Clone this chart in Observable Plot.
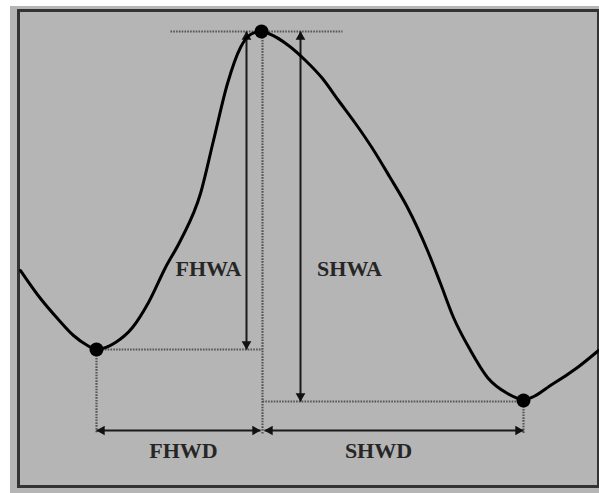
<!DOCTYPE html>
<html>
<head>
<meta charset="utf-8">
<script src="https://cdn.jsdelivr.net/npm/d3@7"></script>
<script src="https://cdn.jsdelivr.net/npm/@observablehq/plot@0.6"></script>
<style>
  html, body { margin: 0; padding: 0; background: #ffffff; }
  #chart { position: absolute; left: 10px; top: 6px; }
  #chart svg { display: block; background: #b5b5b5; }
</style>
</head>
<body>
<div id="chart"></div>
<script>
// Pulse waveform (time in samples, amplitude in arbitrary units)
const curveT = [2,22,39,55,69,78,97,114,130,147,162,182,195,209,222,232,243,250,270,287,304,320,337,354,371,389,409,422,435,452,469,489,505,535,559,580];
const curveV = [216,188,168,151,141,137,144,159,184,219,246,293,346,403,439,452,455,453,441,426,408,386,363,338,310,279,236,203,169,136,109,93,87,103,119,136];

// Key points: first minimum, peak, second minimum
const keyNames = ["first minimum", "peak", "second minimum"];
const keyT = [78, 243, 505];
const keyV = [137, 455, 86];

// Measurement labels and where they sit
const labelNames = ["FHWA", "SHWA", "FHWD", "SHWD"];
const labelT = [190, 331, 165, 360];
const labelV = [218, 218, 36, 36];

// Measurement placement
const splitT = 244;                 // time of the peak split line
const amplitudeArrowT = [228, 282]; // FHWA, SHWA
const durationLevel = 56;           // level of FHWD / SHWD arrows
const topGuideT = [152, 324];
const guideBottom = 53;

const [tMin1, tPeak, tMin2] = keyT;
const [vMin1, vPeak, vMin2] = keyV;

const curve = curveT.map((t, i) => ({t, v: curveV[i]}));
const keys = keyNames.map((n, i) => ({n, t: keyT[i], v: keyV[i]}));
const labels = labelNames.map((n, i) => ({n, t: labelT[i], v: labelV[i]}));

const guides = [
  {x1: topGuideT[0], y1: vPeak, x2: topGuideT[1], y2: vPeak},
  {x1: splitT, y1: vPeak, x2: splitT, y2: guideBottom},
  {x1: tMin1, y1: vMin1, x2: splitT, y2: vMin1},
  {x1: splitT, y1: vMin2 - 1, x2: tMin2, y2: vMin2 - 1},
  {x1: tMin1, y1: vMin1, x2: tMin1, y2: guideBottom},
  {x1: tMin2, y1: vMin2, x2: tMin2, y2: guideBottom}
];

const arrows = [
  {x1: amplitudeArrowT[0], y1: vPeak, x2: amplitudeArrowT[0], y2: vMin1},
  {x1: amplitudeArrowT[1], y1: vPeak, x2: amplitudeArrowT[1], y2: vMin2 - 1},
  {x1: tMin1, y1: durationLevel, x2: splitT - 2, y2: durationLevel},
  {x1: splitT + 2, y1: durationLevel, x2: tMin2, y2: durationLevel}
];

const hl = 5.4;
const heads = [
  {t: amplitudeArrowT[0], v: vPeak, rot: 0, dx: 0, dy: hl},
  {t: amplitudeArrowT[0], v: vMin1, rot: 180, dx: 0, dy: -hl},
  {t: amplitudeArrowT[1], v: vPeak, rot: 0, dx: 0, dy: hl},
  {t: amplitudeArrowT[1], v: vMin2 - 1, rot: 180, dx: 0, dy: -hl},
  {t: tMin1, v: durationLevel, rot: -90, dx: hl, dy: 0},
  {t: splitT - 2, v: durationLevel, rot: 90, dx: -hl, dy: 0},
  {t: splitT + 2, v: durationLevel, rot: -90, dx: hl, dy: 0},
  {t: tMin2, v: durationLevel, rot: 90, dx: -hl, dy: 0}
];

const headMarks = heads.map(h => Plot.dot([h], {
  x: "t", y: "v", symbol: "triangle", r: 3.6, fill: "#111", stroke: "none",
  rotate: h.rot, dx: h.dx, dy: h.dy
}));

const chart = Plot.plot({
  width: 589,
  height: 487,
  marginLeft: 8,
  marginTop: 4,
  marginRight: 1,
  marginBottom: 7,
  x: {domain: [0, 580], axis: null},
  y: {domain: [0, 476], axis: null},
  style: {background: "#b5b5b5", overflow: "visible"},
  marks: [
    Plot.frame({stroke: "#333", strokeWidth: 3}),
    Plot.link(guides, {x1: "x1", y1: "y1", x2: "x2", y2: "y2",
      stroke: "#555", strokeWidth: 2.2, strokeDasharray: "1.6,1.2"}),
    Plot.link(arrows, {x1: "x1", y1: "y1", x2: "x2", y2: "y2",
      stroke: "#1a1a1a", strokeWidth: 2}),
    ...headMarks,
    Plot.line(curve, {x: "t", y: "v", curve: "monotone-x",
      stroke: "#000", strokeWidth: 3}),
    Plot.dot(keys, {x: "t", y: "v", r: 7, fill: "#000", stroke: "none"}),
    Plot.text(labels, {x: "t", y: "v", text: "n",
      fontFamily: "Liberation Serif", fontSize: 22, fontWeight: "bold",
      fill: "#262626"})
  ]
});

document.getElementById("chart").appendChild(chart);
</script>
</body>
</html>
